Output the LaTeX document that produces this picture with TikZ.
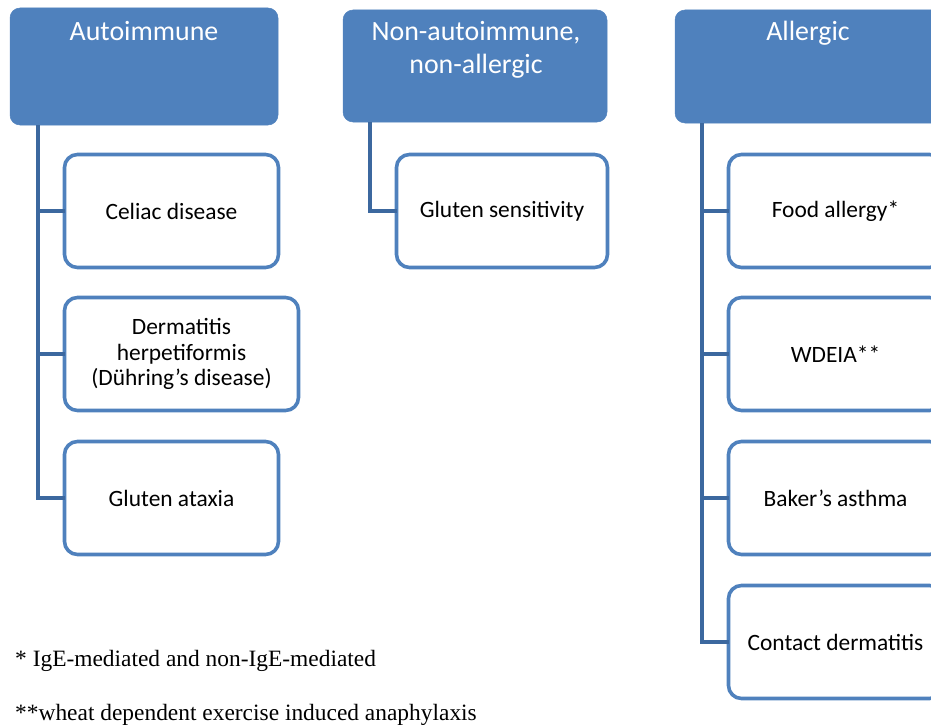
\documentclass[tikz,border=0pt]{standalone}
\usepackage{fontspec}
\setmainfont{Carlito}
\newfontfamily\footfont{Liberation Serif}
\usetikzlibrary{calc}
\definecolor{hdr}{HTML}{4F81BD}
\definecolor{conn}{HTML}{3C689F}
\definecolor{bord}{HTML}{4F81BD}
\begin{document}
\begin{tikzpicture}[x=1bp,y=-1bp,
  hdrbox/.style={fill=hdr, draw=hdr, line width=0.5bp, rounded corners=10bp, inner sep=0pt, outer sep=0pt, anchor=north west},
  childbox/.style={draw=bord, line width=3.6bp, fill=white, rounded corners=13bp, anchor=north west, inner sep=0pt, outer sep=0pt, align=center, minimum height=113bp, font=\fontsize{23.5}{26}\selectfont, text=black},
  link/.style={draw=conn, line width=3.8bp},
  hdrtext/.style={text=white, font=\fontsize{28}{33}\selectfont, anchor=base, inner sep=0pt},
  foot/.style={font=\footfont\fontsize{23.5}{28}\selectfont, anchor=base west, inner sep=0pt}]
\useasboundingbox (0,0) rectangle (931,725);
\clip (0,0) rectangle (931,725);

% headers
\node[hdrbox, minimum width=268bp, minimum height=117bp] (h1) at (10,8) {};
\node[hdrtext] (h1t) at (144,41) {Autoimmune};
\node[hdrbox, minimum width=264bp, minimum height=112bp] (h2) at (343,10) {};
\node[hdrtext] (h2t) at (476,41) {Non-autoimmune,};
\node[hdrtext] (h2u) at (476,74) {non-allergic};
\node[hdrbox, minimum width=266bp, minimum height=113bp] (h3) at (675,10) {};
\node[hdrtext] (h3t) at (808,41) {Allergic};

% column 1
\node[childbox, minimum width=214bp] (c1) at (64.5,154.5) {Celiac disease};
\node[childbox, minimum width=234bp] (c2) at (64.5,297.5) {Dermatitis\\herpetiformis\\(Dühring’s disease)};
\node[childbox, minimum width=214bp] (c3) at (64.5,441.5) {Gluten ataxia};

% column 2
\node[childbox, minimum width=211bp] (d1) at (396.5,154.5) {Gluten sensitivity};

% column 3
\node[childbox, minimum width=214bp] (e1) at (728.5,154.5) {Food allergy*};
\node[childbox, minimum width=214bp] (e2) at (728.5,297.5) {WDEIA**};
\node[childbox, minimum width=214bp] (e3) at (728.5,441.5) {Baker’s asthma};
\node[childbox, minimum width=214bp] (e4) at (728.5,585.5) {Contact dermatitis};

% connectors
\coordinate (v1) at ($(h1.south west)+(28,0)$);
\coordinate (v2) at ($(h2.south west)+(27,0)$);
\coordinate (v3) at ($(h3.south west)+(27,0)$);
\draw[link] (v1) |- (c3.west);
\draw[link] (v1) |- (c1.west);
\draw[link] (v1) |- (c2.west);
\draw[link] (v2) |- (d1.west);
\draw[link] (v3) |- (e4.west);
\draw[link] (v3) |- (e1.west);
\draw[link] (v3) |- (e2.west);
\draw[link] (v3) |- (e3.west);

% footnotes
\node[foot] (f1) at (15,666) {* IgE-mediated and non-IgE-mediated};
\node[foot] (f2) at (15,720) {**wheat dependent exercise induced anaphylaxis};
\end{tikzpicture}
\end{document}
